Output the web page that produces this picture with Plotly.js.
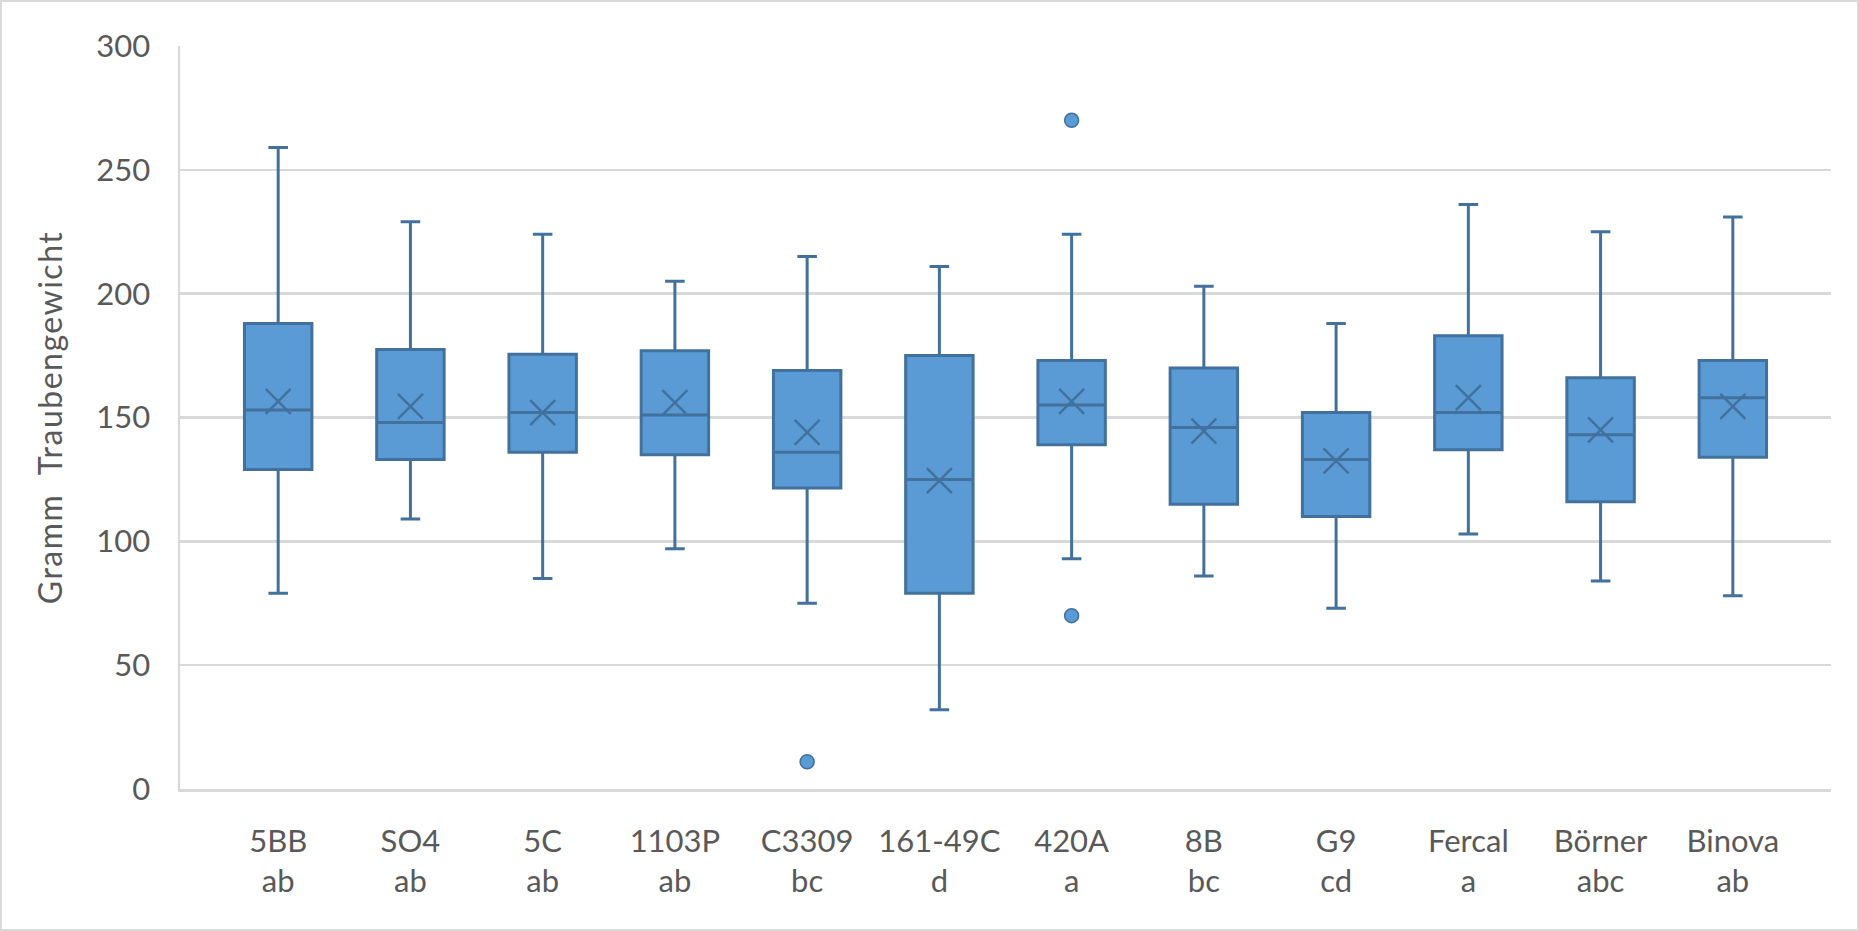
<!DOCTYPE html>
<html>
<head>
<meta charset="utf-8">
<script src="https://cdn.plot.ly/plotly-3.0.1.min.js"></script>
<style>
  html, body { margin: 0; padding: 0; background: #ffffff; }
  #chart { width: 1859px; height: 931px; box-sizing: border-box; border: 2px solid #d9d9d9; }
  #chart .ytitle { letter-spacing: 1.5px; }
</style>
</head>
<body>
<div id="chart"></div>
<script>
const categories = ["5BB", "SO4", "5C", "1103P", "C3309", "161-49C", "420A", "8B", "G9", "Fercal", "Börner", "Binova"];
const groups     = ["ab", "ab", "ab", "ab", "bc", "d", "a", "bc", "cd", "a", "abc", "ab"];
const lowerWhisker = [79, 109, 85, 97, 75, 32, 93, 86, 73, 103, 84, 78];
const q1Values     = [129, 133, 136, 135, 121.5, 79, 139, 115, 110, 137, 116, 134];
const medianValues = [153, 148, 152, 151, 136, 125, 155, 146, 133, 152, 143, 158];
const q3Values     = [188, 177.5, 175.5, 177, 169, 175, 173, 170, 152, 183, 166, 173];
const upperWhisker = [259, 229, 224, 205, 215, 211, 224, 203, 188, 236, 225, 231];
const meanValues   = [156.5, 154.5, 152, 156, 144, 124.5, 156.5, 144.5, 132.5, 158, 145, 154.5];
const outlierCategories = ["C3309", "420A", "420A"];
const outlierValues     = [11, 270, 70];

const fillColor = "#5b9bd5";
const lineColor = "#41719c";
const textColor = "#595959";
const gridColor = "#d9d9d9";
const fontFamily = "Lato, 'Open Sans', sans-serif";

const boxTrace = {
  type: "box",
  x: categories,
  q1: q1Values,
  median: medianValues,
  q3: q3Values,
  lowerfence: lowerWhisker,
  upperfence: upperWhisker,
  boxpoints: false,
  fillcolor: fillColor,
  line: { color: lineColor, width: 3 },
  whiskerwidth: 0.29,
  hoverinfo: "skip",
  showlegend: false
};

const meanTrace = {
  type: "scatter",
  mode: "markers",
  x: categories,
  y: meanValues,
  marker: { symbol: "x-thin-open", size: 25, color: lineColor, line: { color: lineColor, width: 2.5 } },
  hoverinfo: "skip",
  showlegend: false
};

const outlierTrace = {
  type: "scatter",
  mode: "markers",
  x: outlierCategories,
  y: outlierValues,
  marker: { symbol: "circle", size: 14, color: fillColor, line: { color: lineColor, width: 1.5 } },
  hoverinfo: "skip",
  showlegend: false
};

const layout = {
  width: 1855,
  height: 927,
  margin: { l: 178, r: 26, t: 44, b: 140 },
  paper_bgcolor: "#ffffff",
  plot_bgcolor: "#ffffff",
  font: { family: fontFamily, color: textColor, size: 31 },
  boxgap: 0.49,
  boxgroupgap: 0,
  showlegend: false,
  xaxis: {
    type: "category",
    tickvals: categories,
    ticktext: categories.map((c, i) => c + "<br>" + groups[i]),
    tickfont: { family: fontFamily, size: 31, color: textColor },
    showgrid: false,
    showline: true,
    linecolor: gridColor,
    linewidth: 2.5,
    ticks: "outside",
    ticklen: 23,
    tickcolor: "rgba(0,0,0,0)",
    zeroline: false,
    fixedrange: true
  },
  yaxis: {
    range: [0, 300],
    dtick: 50,
    tick0: 0,
    showgrid: true,
    gridcolor: gridColor,
    gridwidth: 2.5,
    showline: true,
    linecolor: gridColor,
    linewidth: 2.5,
    zeroline: false,
    ticks: "outside",
    ticklen: 21,
    tickcolor: "rgba(0,0,0,0)",
    tickfont: { family: fontFamily, size: 31, color: textColor },
    title: { text: "Gramm  Traubengewicht", font: { family: fontFamily, size: 32, color: textColor }, standoff: 24 },
    fixedrange: true
  }
};

Plotly.newPlot("chart", [boxTrace, meanTrace, outlierTrace], layout, { displayModeBar: false, staticPlot: true });
</script>
</body>
</html>
